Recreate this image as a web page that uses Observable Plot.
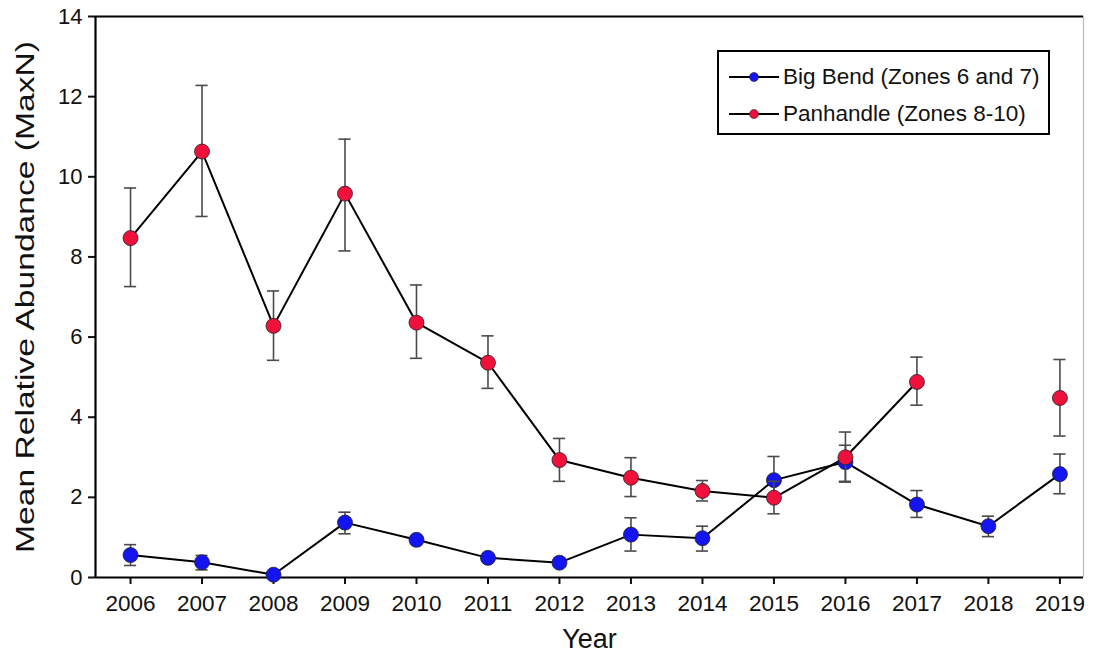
<!DOCTYPE html>
<html>
<head>
<meta charset="utf-8">
<script src="https://cdn.jsdelivr.net/npm/d3@7"></script>
<script src="https://cdn.jsdelivr.net/npm/@observablehq/plot@0.6"></script>
<style>
  html, body { margin: 0; padding: 0; background: #fff; }
  #wrap { position: relative; width: 1094px; height: 657px; font-family: "Liberation Sans", Arial, sans-serif; }
  #legend { position: absolute; left: 717px; top: 50px; width: 333px; height: 85px; border: 2px solid #000; background: #fff; box-sizing: border-box; padding: 6px 0 0 9px; }
  .row { display: flex; align-items: center; height: 37px; font-size: 22.5px; color: #111; }
  .row svg { margin-right: 3px; }
</style>
</head>
<body>
<div id="wrap">
  <div id="chart"></div>
  <div id="legend"></div>
</div>
<script>
const years = [2006, 2007, 2008, 2009, 2010, 2011, 2012, 2013, 2014, 2015, 2016, 2017, 2018, 2019];
const yTicks = [0, 2, 4, 6, 8, 10, 12, 14];

const seriesNames = ["Big Bend (Zones 6 and 7)", "Panhandle (Zones 8-10)"];
const seriesColors = ["#1414f0", "#f0103c"];
const xTitle = "Year";
const yTitle = "Mean Relative Abundance (MaxN)";

// Big Bend (Zones 6 and 7)
const bigBendMean = [0.56, 0.38, 0.07, 1.37, 0.94, 0.49, 0.37, 1.07, 0.98, 2.43, 2.88, 1.82, 1.28, 2.58];
const bigBendLow  = [0.30, 0.19, 0.07, 1.09, 0.94, 0.49, 0.37, 0.66, 0.66, 1.92, 2.38, 1.50, 1.02, 2.09];
const bigBendHigh = [0.82, 0.55, 0.07, 1.63, 0.94, 0.49, 0.37, 1.49, 1.28, 3.02, 3.30, 2.17, 1.53, 3.08];

// Panhandle (Zones 8-10); 2018 not sampled
const panMean = [8.47, 10.63, 6.28, 9.58, 6.36, 5.36, 2.93, 2.49, 2.16, 1.99, 3.00, 4.88, null, 4.48];
const panLow  = [7.26, 9.01, 5.42, 8.15, 5.47, 4.72, 2.40, 2.02, 1.91, 1.59, 2.40, 4.30, null, 3.53];
const panHigh = [9.72, 12.28, 7.15, 10.94, 7.30, 6.03, 3.47, 2.99, 2.42, 2.40, 3.63, 5.50, null, 5.44];

function build(mean, low, high, s) {
  return years.map((yr, i) => ({ year: yr, mean: mean[i], lo: low[i], hi: high[i], s }));
}
const bb = build(bigBendMean, bigBendLow, bigBendHigh, 0);
const pan = build(panMean, panLow, panHigh, 1);
const bbPts = bb.filter(d => d.mean != null);
const panPts = pan.filter(d => d.mean != null);
const bbErr = bbPts.filter(d => d.hi - d.lo > 0.05);
const panErr = panPts.filter(d => d.hi - d.lo > 0.05);

const xDomain = [2005.51, 2019.33];
const cap = 0.085;
const font = "Liberation Sans, Arial, sans-serif";

function errMarks(data) {
  return [
    Plot.ruleX(data, { x: "year", y1: "lo", y2: "hi", stroke: "#4a4a4a", strokeWidth: 1.6 }),
    Plot.ruleY(data, { y: "lo", x1: d => d.year - cap, x2: d => d.year + cap, stroke: "#4a4a4a", strokeWidth: 1.6 }),
    Plot.ruleY(data, { y: "hi", x1: d => d.year - cap, x2: d => d.year + cap, stroke: "#4a4a4a", strokeWidth: 1.6 })
  ];
}

const chart = Plot.plot({
  width: 1094,
  height: 657,
  marginLeft: 95,
  marginRight: 11,
  marginTop: 16,
  marginBottom: 80,
  style: { fontFamily: font, fontSize: "22px", color: "#111", background: "#fff" },
  x: { domain: xDomain, label: null },
  y: { domain: [0, 14], label: null },
  marks: [
    Plot.ruleX([xDomain[1]], { stroke: "#bbb", strokeWidth: 1.2 }),
    Plot.ruleY([14], { stroke: "#000", strokeWidth: 2 }),
    Plot.axisX({ ticks: years, tickFormat: d => String(d), tickSize: 7, tickPadding: 11, strokeWidth: 2, fontSize: 22.5, fill: "#111", label: null }),
    Plot.axisY({ ticks: yTicks, tickSize: 7, tickPadding: 6, strokeWidth: 2, fontSize: 22, fill: "#111", label: null }),
    Plot.ruleY([0], { stroke: "#000", strokeWidth: 2.2 }),
    Plot.ruleX([xDomain[0]], { stroke: "#000", strokeWidth: 2.2 }),
    Plot.line(bb, { x: "year", y: "mean", stroke: "#000", strokeWidth: 2 }),
    Plot.line(pan, { x: "year", y: "mean", stroke: "#000", strokeWidth: 2 }),
    ...errMarks(bbErr),
    Plot.dot(bbPts, { x: "year", y: "mean", r: 7.5, fill: seriesColors[0], stroke: "#222", strokeWidth: 0.8 }),
    ...errMarks(panErr),
    Plot.dot(panPts, { x: "year", y: "mean", r: 7.5, fill: seriesColors[1], stroke: "#222", strokeWidth: 0.8 }),
    Plot.text([xTitle], { frameAnchor: "bottom", dy: 70, fontSize: 27, fill: "#111" }),
    Plot.text([yTitle], { frameAnchor: "left", textAnchor: "middle", dx: -70, rotate: -90, fontSize: 26, fill: "#111" })
  ]
});
document.getElementById("chart").appendChild(chart);

// Stretch the rotated y title along its reading direction, as in the reference
d3.select(chart).selectAll("text")
  .filter(function () { return this.textContent === yTitle; })
  .attr("textLength", 512)
  .attr("lengthAdjust", "spacingAndGlyphs");

// Legend
const legend = document.getElementById("legend");
seriesNames.forEach((name, i) => {
  const row = document.createElement("div");
  row.className = "row";
  row.innerHTML = `<svg width="52" height="16"><line x1="1" x2="51" y1="8" y2="8" stroke="#000" stroke-width="2"/><circle cx="26" cy="8" r="4.5" fill="${seriesColors[i]}" stroke="#222" stroke-width="0.6"/></svg><span>${name}</span>`;
  legend.appendChild(row);
});
</script>
</body>
</html>
